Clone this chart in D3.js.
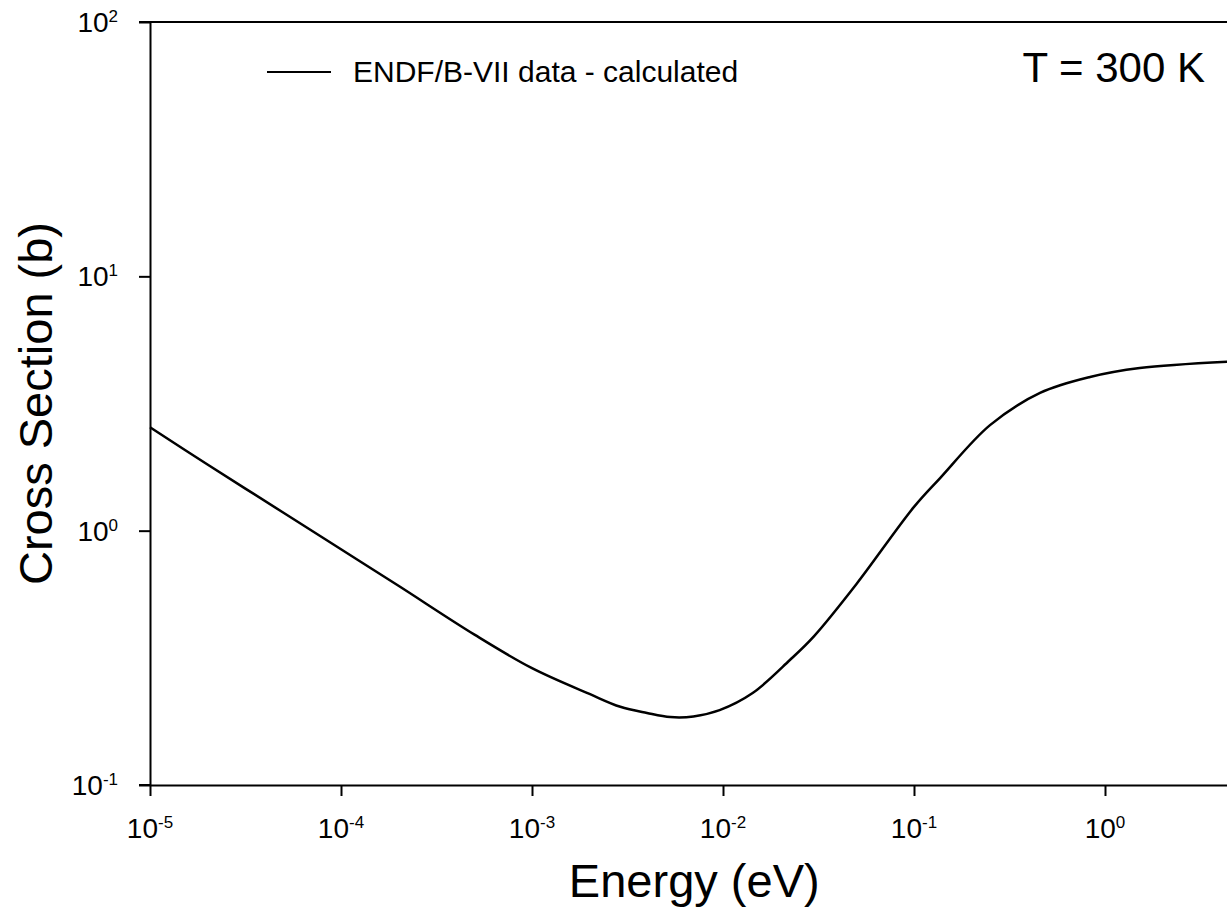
<!DOCTYPE html>
<html>
<head>
<meta charset="utf-8">
<script src="https://cdn.jsdelivr.net/npm/d3@7"></script>
<style>
  html, body { margin: 0; padding: 0; background: #fff; overflow: hidden; }
  svg { display: block; font-family: "Liberation Sans", Arial, sans-serif; }
</style>
</head>
<body>
<svg id="chart" width="1227" height="910"></svg>
<script>
// energy (eV) and cross section (b)
var energy = [1e-5, 2e-5, 5e-5, 1e-4, 2e-4, 5e-4, 1e-3, 2e-3, 2.9e-3, 4e-3, 5.3e-3, 7e-3,
  9.6e-3, 1.43e-2, 2.24e-2, 3e-2, 5e-2, 0.1, 0.137, 0.25, 0.457, 0.835, 1.52, 5.0];
var crossSection = [2.55, 1.82, 1.176, 0.845, 0.607, 0.39, 0.288, 0.228, 0.203, 0.192, 0.185, 0.186,
  0.197, 0.23, 0.31, 0.385, 0.617, 1.24, 1.61, 2.6, 3.48, 4.02, 4.36, 4.64];
var xTickExp = [-5, -4, -3, -2, -1, 0];
var yTickExp = [-1, 0, 1, 2];
var seriesName = "ENDF/B-VII data - calculated";
var tempLabel = "T = 300 K";

var margin = { left: 150, top: 22, bottom: 785, right: 1238.5 };
var svg = d3.select("#chart");

var x = d3.scaleLog().domain([1e-5, 5]).range([margin.left, margin.right]);
var y = d3.scaleLog().domain([0.1, 100]).range([margin.bottom, margin.top]);

var data = energy.map(function (e, i) {
  return { x: e, y: crossSection[i] };
});

// top frame line
svg.append("line")
  .attr("x1", margin.left - 11).attr("x2", margin.right)
  .attr("y1", y(100)).attr("y2", y(100))
  .style("stroke", "#000").style("stroke-width", 2);

var xAxis = d3.axisBottom(x)
  .tickValues(xTickExp.map(function (p) { return Math.pow(10, p); }))
  .tickSize(11).tickSizeOuter(0).tickFormat("");
var yAxis = d3.axisLeft(y)
  .tickValues(yTickExp.map(function (p) { return Math.pow(10, p); }))
  .tickSize(11).tickSizeOuter(0).tickFormat("");

var gx = svg.append("g").attr("transform", "translate(0," + margin.bottom + ")").call(xAxis);
var gy = svg.append("g").attr("transform", "translate(" + margin.left + ",0)").call(yAxis);

[gx, gy].forEach(function (g) {
  g.select(".domain").style("stroke", "#000").style("stroke-width", 2);
  g.selectAll(".tick line").style("stroke", "#000").style("stroke-width", 2);
});
// extend bottom line to the left tick
svg.append("line")
  .attr("x1", margin.left - 11).attr("x2", margin.left)
  .attr("y1", margin.bottom).attr("y2", margin.bottom)
  .style("stroke", "#000").style("stroke-width", 2);

function powerLabel(sel, p) {
  sel.append("tspan").text("10");
  sel.append("tspan").attr("dy", -10).style("font-size", "17px").text(p);
}

xTickExp.forEach(function (p) {
  var t = svg.append("text")
    .attr("x", x(Math.pow(10, p)))
    .attr("y", 838)
    .attr("text-anchor", "middle")
    .style("font-size", "28px");
  powerLabel(t, p);
});

yTickExp.forEach(function (p) {
  var t = svg.append("text")
    .attr("x", 118)
    .attr("y", y(Math.pow(10, p)) + 10)
    .attr("text-anchor", "end")
    .style("font-size", "28px");
  powerLabel(t, p);
});

// axis titles
svg.append("text")
  .attr("x", (margin.left + margin.right) / 2)
  .attr("y", 897)
  .attr("text-anchor", "middle")
  .style("font-size", "47px")
  .text("Energy (eV)");

svg.append("text")
  .attr("transform", "translate(52," + (margin.top + margin.bottom) / 2 + ") rotate(-90)")
  .attr("text-anchor", "middle")
  .style("font-size", "47px")
  .text("Cross Section (b)");

// curve
var valueline = d3.line()
  .x(function (d) { return x(d.x); })
  .y(function (d) { return y(d.y); })
  .curve(d3.curveCatmullRom.alpha(0.5));

svg.append("path")
  .attr("d", valueline(data))
  .style("fill", "none")
  .style("stroke", "#000")
  .style("stroke-width", 2.5);

// legend
svg.append("line")
  .attr("x1", 267).attr("x2", 331)
  .attr("y1", 72).attr("y2", 72)
  .style("stroke", "#000").style("stroke-width", 2);
svg.append("text")
  .attr("x", 353).attr("y", 82)
  .style("font-size", "30px")
  .text(seriesName);

svg.append("text")
  .attr("x", 1205).attr("y", 82)
  .attr("text-anchor", "end")
  .style("font-size", "42px")
  .text(tempLabel);
</script>
</body>
</html>
